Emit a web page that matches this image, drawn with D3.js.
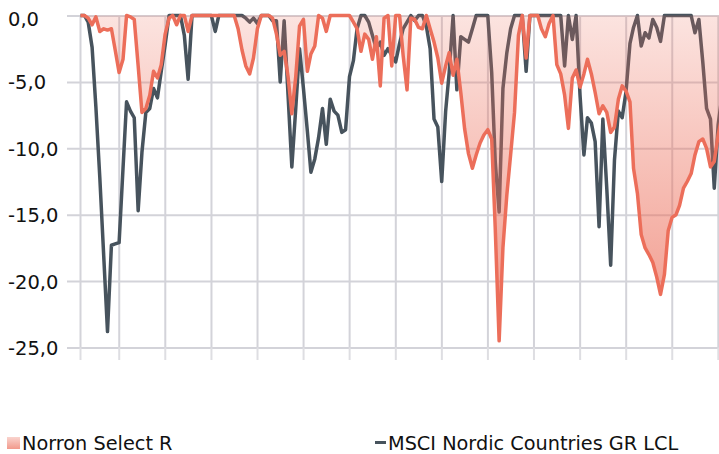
<!DOCTYPE html>
<html>
<head>
<meta charset="utf-8">
<script src="https://cdn.jsdelivr.net/npm/d3@7/dist/d3.min.js"></script>
<style>
  body { margin: 0; background: #fff; }
  svg { display: block; font-family: "DejaVu Sans", Verdana, sans-serif; }
</style>
</head>
<body>
<svg id="chart"></svg>
<script>
// monthly drawdown in %, first point end of Feb 2010
var firstMonth = new Date(2010, 1, 1);
var norron = [
  0, 0, -0.2, -0.7, -0.1, -1.2, -1.0, -1.1, -1.0, -2.6,
  -4.3, -3.3, 0, -0.1, -0.3, -3.8, -7.3, -7.0, -6.0, -4.2,
  -4.7, -3.7, -1.4, -0.2, 0, -0.7, 0, 0, -1.2, 0,
  0, 0, 0, 0, 0, 0, 0, 0, 0, 0,
  0, -1.0, -2.6, -3.8, -4.4, -3.2, -1.0, 0, 0, 0,
  -0.2, -1.4, -3.0, -2.7, -4.6, -7.4, -4.6, -0.8, -0.3, -4.2,
  -2.9, -2.3, 0, -0.2, -1.2, 0, 0, 0, 0, 0,
  0, -0.5, -1.0, -2.7, -1.4, -1.8, -3.3, -1.6, -5.3, -0.2,
  0, -3.8, 0, 0, -3.0, -5.6, -0.2, -0.3, -0.9, -1.0,
  0, -1.0, -2.0, -3.2, -5.1, -3.8, -2.8, -4.5, -3.3, -5.8,
  -8.5, -10.4, -11.5, -10.5, -9.6, -9.0, -8.6, -9.3, -16.0, -24.5,
  -17.5, -13.5, -10.5, -7.3, -1.5, 0, -3.2, 0, 0, 0,
  -1.0, -1.6, -0.6, 0, -3.7, -4.4, -6.0, -8.5, -4.7, -4.1,
  -5.4, -4.4, -3.3, -4.4, -5.8, -7.4, -6.8, -7.3, -8.8, -8.4,
  -6.3, -5.3, -5.7, -6.5, -11.5, -13.4, -16.5, -17.5, -18.0, -18.6,
  -19.7, -21.0, -19.5, -16.2, -15.2, -15.0, -14.3, -13.0, -12.5, -11.9,
  -10.5, -9.5, -9.3, -10.0, -11.4, -11.0, -9.0, -7.5
];
var msci = [
  0, 0, -0.5, -2.4, -6.9, -12.2, -18.1, -23.8, -17.3, -17.2,
  -17.1, -11.5, -6.5, -7.2, -7.7, -14.7, -10.3, -7.3, -7.0, -5.5,
  -6.2, -4.2, -2.2, 0, 0, 0, 0, -1.5, -4.8, 0,
  0, 0, 0, 0, 0, -1.2, 0, 0, 0, 0,
  0, 0, 0, -0.2, -0.5, -0.2, -0.6, 0, 0, 0,
  -0.4, -0.4, -5.0, -0.4, -6.0, -11.4, -7.0, -2.5, -5.5, -8.7,
  -11.8, -10.8, -9.2, -7.0, -9.7, -6.3, -7.2, -7.5, -8.8, -8.6,
  -4.6, -3.4, -1.0, 0, 0, -0.5, -1.5, -2.5, -2.0, -3.0,
  -2.5, -3.0, -3.5, -2.1, -1.0, -0.5, 0, -0.4, 0, 0,
  -0.8, -2.5, -7.8, -8.4, -12.5, -7.2, -4.3, 0, -5.6, -1.6,
  -1.8, -2.0, -1.0, 0, 0, 0, 0, -4.3, -11.0, -14.8,
  -5.5, -2.8, -1.0, 0, 0, 0, -4.2, 0, 0, 0,
  0, 0, 0, 0, 0, 0, -3.8, 0, -1.8, 0,
  -6.0, -10.5, -7.7, -8.1, -9.5, -15.9, -7.8, -13.0, -18.8, -10.9,
  -7.2, -7.7, -5.7, -2.1, -0.9, 0, -2.3, -1.3, -1.7, -0.3,
  -0.9, -1.95, 0, 0, 0, 0, 0, 0, 0, 0,
  -1.3, -0.3, -3.5, -7.0, -7.8, -13.0, -8.2, -6.0
];
var seriesNames = ['Norron Select R', 'MSCI Nordic Countries GR LCL'];
var yTicks = [0, -5, -10, -15, -20, -25];

var width = 719;
var height = 454;
var red = '#ec6e5a';
var dark = '#47535d';
var grid = '#d3d3d9';

var dates = norron.map(function(d, i) {
  // month end
  return d3.timeDay.offset(d3.timeMonth.offset(firstMonth, i + 1), -1);
});
var rows = dates.map(function(d, i) { return {date: d, norron: norron[i], msci: msci[i]}; });

var svg = d3.select('#chart')
    .attr('width', width)
    .attr('height', height);

var x = d3.scaleTime()
    .domain([dates[0], new Date(2024, 0, 1)])
    .range([80.5, 718.3]);
var y = d3.scaleLinear()
    .domain([-25, 0])
    .range([347.5, 15.5]);

var defs = svg.append('defs');
var grad = defs.append('linearGradient')
    .attr('id', 'areaFill')
    .attr('gradientUnits', 'userSpaceOnUse')
    .attr('x1', 0).attr('x2', 0)
    .attr('y1', y(0)).attr('y2', y(-25));
grad.append('stop').attr('offset', 0).attr('stop-color', red).attr('stop-opacity', 0.19);
grad.append('stop').attr('offset', 1).attr('stop-color', red).attr('stop-opacity', 0.72);

var swatch = defs.append('linearGradient')
    .attr('id', 'swatchFill')
    .attr('x1', 0).attr('x2', 0).attr('y1', 0).attr('y2', 1);
swatch.append('stop').attr('offset', 0).attr('stop-color', red).attr('stop-opacity', 0.3);
swatch.append('stop').attr('offset', 1).attr('stop-color', red).attr('stop-opacity', 0.7);

// horizontal grid + labels
var yaxis = d3.axisLeft(y)
    .tickValues(yTicks)
    .tickSize(-(width - 67))
    .tickFormat(function(d) { return d3.format('.1f')(d).replace('.', ',').replace('\u2212', '-'); });
var yg = svg.append('g')
    .attr('transform', 'translate(67,0)')
    .call(yaxis);
yg.select('.domain').remove();
yg.selectAll('.tick line').attr('stroke', grid).attr('stroke-width', 2);
yg.selectAll('.tick text')
    .attr('x', -59)
    .attr('y', function(d) { return d === 0 ? 3 : 0; })
    .attr('dy', '0.36em')
    .attr('text-anchor', 'start')
    .attr('fill', '#111')
    .style('font-size', '19.5px')
    .style('font-family', '"DejaVu Sans", Verdana, sans-serif');

// vertical grid (left edge + years) with small ticks below
var xticks = [dates[0]].concat(d3.timeYear.range(new Date(2011, 0, 1), new Date(2024, 0, 2)));
var xg = svg.append('g');
xg.selectAll('line.v')
  .data(xticks)
  .join('line')
    .attr('class', 'v')
    .attr('x1', function(d) { return x(d); })
    .attr('x2', function(d) { return x(d); })
    .attr('y1', y(0))
    .attr('y2', y(-25))
    .attr('stroke', grid)
    .attr('stroke-width', 2);
xg.selectAll('line.t')
  .data(xticks)
  .join('line')
    .attr('class', 't')
    .attr('x1', function(d) { return x(d); })
    .attr('x2', function(d) { return x(d); })
    .attr('y1', y(-25))
    .attr('y2', 360)
    .attr('stroke', '#dedee2')
    .attr('stroke-width', 2);

var lineMsci = d3.line()
    .x(function(d) { return x(d.date); })
    .y(function(d) { return y(d.msci); });
var lineNorron = d3.line()
    .x(function(d) { return x(d.date); })
    .y(function(d) { return y(d.norron); });
var areaNorron = d3.area()
    .x(function(d) { return x(d.date); })
    .y0(y(0))
    .y1(function(d) { return y(d.norron); });

svg.append('path')
    .attr('d', lineMsci(rows))
    .attr('fill', 'none')
    .attr('stroke', dark)
    .attr('stroke-width', 3.5)
    .attr('stroke-linejoin', 'round');

svg.append('path')
    .attr('d', areaNorron(rows))
    .attr('fill', 'url(#areaFill)');

svg.append('path')
    .attr('d', lineNorron(rows))
    .attr('fill', 'none')
    .attr('stroke', red)
    .attr('stroke-width', 3.5)
    .attr('stroke-linejoin', 'round');

// legend
var legend = svg.append('g').style('font-size', '19.3px').attr('fill', '#111');
legend.append('rect')
    .attr('x', 7).attr('y', 437).attr('width', 13).attr('height', 12)
    .attr('fill', 'url(#swatchFill)');
legend.append('text')
    .attr('x', 22).attr('y', 450)
    .text(seriesNames[0]);
legend.append('rect')
    .attr('x', 375).attr('y', 441).attr('width', 11).attr('height', 3)
    .attr('fill', dark);
legend.append('text')
    .attr('x', 388).attr('y', 450)
    .text(seriesNames[1]);
</script>
</body>
</html>
